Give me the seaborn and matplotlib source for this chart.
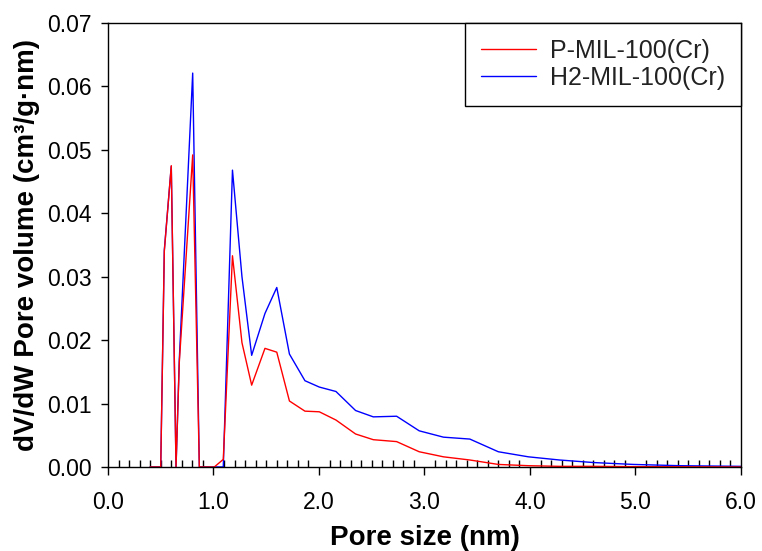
import matplotlib
matplotlib.use("Agg")
import matplotlib.pyplot as plt
import matplotlib.ticker as mticker
import pandas as pd
import seaborn as sns

# pore size (nm)
pore_size = [0.40, 0.45, 0.50, 0.534, 0.60, 0.645, 0.676, 0.803, 0.866, 0.93,
             1.008, 1.093, 1.18, 1.27, 1.362, 1.488, 1.60, 1.72, 1.867, 2.003,
             2.161, 2.347, 2.515, 2.736, 2.95, 3.18, 3.43, 3.70, 3.985, 4.28,
             4.60, 4.98, 5.42, 6.0]

p_mil = [0, 0, 0, 0.034, 0.0475, 0, 0.0165, 0.0492, 0, 0,
         0, 0.0012, 0.0333, 0.0196, 0.0129, 0.0187, 0.0181, 0.0104, 0.0088, 0.0087,
         0.0074, 0.0052, 0.0043, 0.0040, 0.0024, 0.0016, 0.0011, 0.0004, 0.0002, 0.0001,
         0.0001, 0.00005, 0.00003, 0]

h2_mil = [0, 0, 0, 0.0342, 0.0474, 0, 0.0169, 0.0621, 0, 0,
          0, 0, 0.0468, 0.0300, 0.0176, 0.0242, 0.0283, 0.0178, 0.0136, 0.0126,
          0.0119, 0.0089, 0.0079, 0.0080, 0.0057, 0.0047, 0.0044, 0.0024, 0.0016, 0.0011,
          0.0007, 0.0004, 0.0002, 0.0001]

labels = ['P-MIL-100(Cr)', 'H2-MIL-100(Cr)']

df = pd.concat([
    pd.DataFrame({'size': pore_size, 'value': p_mil, 'sample': labels[0]}),
    pd.DataFrame({'size': pore_size, 'value': h2_mil, 'sample': labels[1]}),
])

sns.set_style('ticks')
plt.rcParams['font.family'] = ['Liberation Sans', 'DejaVu Sans']
plt.rcParams['text.color'] = 'black'
plt.rcParams['axes.labelcolor'] = 'black'
plt.rcParams['xtick.color'] = 'black'
plt.rcParams['ytick.color'] = 'black'

fig = plt.figure(figsize=(7.62, 5.51), dpi=100)
ax = fig.add_axes([0.1417, 0.1525, 0.8307, 0.8058])

# blue first so red sits on top, like the original
sns.lineplot(data=df, x='size', y='value', hue='sample', hue_order=labels[::-1],
             palette={labels[0]: '#ff0000', labels[1]: '#0000ff'},
             linewidth=1.0, sort=False, estimator=None, ax=ax)

ax.set_xlim(0, 6)
ax.set_ylim(0, 0.07)
ax.xaxis.set_major_locator(mticker.MultipleLocator(1.0))
ax.xaxis.set_minor_locator(mticker.MultipleLocator(0.1))
ax.yaxis.set_major_locator(mticker.MultipleLocator(0.01))
ax.xaxis.set_major_formatter(mticker.FormatStrFormatter('%.1f'))
ax.yaxis.set_major_formatter(mticker.FormatStrFormatter('%.2f'))

ax.tick_params(axis='x', which='major', direction='out', length=6, width=1,
               labelsize=16.5, pad=11, colors='black')
ax.tick_params(axis='x', which='minor', direction='in', length=5, width=1, colors='black')
ax.tick_params(axis='y', which='major', direction='out', length=5, width=1,
               labelsize=16.5, pad=7, colors='black')

for s in ax.spines.values():
    s.set_visible(True)
    s.set_color('black')
    s.set_linewidth(1.0)

ax.set_xlabel('Pore size (nm)', fontsize=20, fontweight='bold', labelpad=8)
ax.set_ylabel('dV/dW Pore volume (cm³/g·nm)', fontsize=20, fontweight='bold', labelpad=5)

handles, labs = ax.get_legend_handles_labels()
order = [labs.index(l) for l in labels]
leg = ax.legend([handles[i] for i in order], [labs[i] for i in order],
                loc='upper right', borderaxespad=0, fontsize=18, frameon=True,
                fancybox=False, edgecolor='black', framealpha=1,
                handlelength=2.2, handletextpad=0.55, labelspacing=0.1,
                borderpad=0.65)
leg.get_frame().set_linewidth(1.0)
for line in leg.get_lines():
    line.set_linewidth(1.0)
for t in leg.get_texts():
    t.set_color('#222222')

plt.savefig('out.png', dpi=100)
plt.close()
